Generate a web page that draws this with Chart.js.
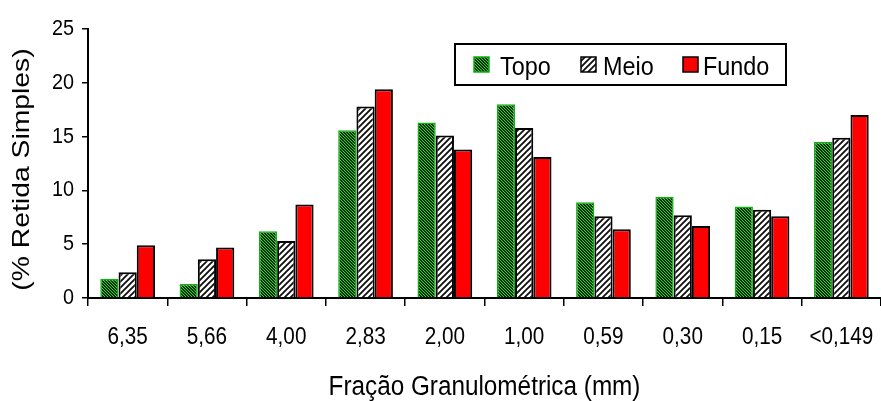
<!DOCTYPE html>
<html>
<head>
<meta charset="utf-8">
<script src="https://cdn.jsdelivr.net/npm/chart.js@4.4.1/dist/chart.umd.min.js"></script>
<style>
  html, body { margin: 0; padding: 0; background: #fff; }
  #wrap { width: 881px; height: 401px; }
</style>
</head>
<body>
<div id="wrap"><canvas id="c" width="881" height="401"></canvas></div>
<script>
// Fração granulométrica (mm) and % retida simples per layer
const categories = ['6,35', '5,66', '4,00', '2,83', '2,00', '1,00', '0,59', '0,30', '0,15', '<0,149'];
const topo  = [1.8, 1.3, 6.2, 15.6, 16.3, 18.0, 8.9, 9.4, 8.5, 14.5];
const meio  = [2.4, 3.6, 5.3, 17.8, 15.1, 15.8, 7.6, 7.7, 8.2, 14.9];
const fundo = [4.9, 4.7, 8.7, 19.4, 13.8, 13.1, 6.4, 6.7, 7.6, 17.0];
const seriesNames = ['Topo', 'Meio', 'Fundo'];
const yTicks = [0, 5, 10, 15, 20, 25];

const FONT = "'Liberation Sans', Arial, sans-serif";
const Y_TITLE_SIZE = 24;

// dense green "\" hatch on dark ground
function topoPattern() {
  const c = document.createElement('canvas');
  c.width = 3; c.height = 3;
  const x = c.getContext('2d');
  x.fillStyle = '#062806';
  x.fillRect(0, 0, 3, 3);
  x.fillStyle = '#22e022';
  for (let i = 0; i < 3; i++) x.fillRect(i, i, 1, 1);
  return x.createPattern(c, 'repeat');
}

// black "/" stripes on white
function meioPattern() {
  const s = 6;
  const c = document.createElement('canvas');
  c.width = s; c.height = s;
  const x = c.getContext('2d');
  x.fillStyle = '#fff';
  x.fillRect(0, 0, s, s);
  x.strokeStyle = '#111';
  x.lineWidth = 1.9;
  x.beginPath();
  x.moveTo(0, s); x.lineTo(s, 0);
  x.moveTo(-1, 1); x.lineTo(1, -1);
  x.moveTo(s - 1, s + 1); x.lineTo(s + 1, s - 1);
  x.stroke();
  return x.createPattern(c, 'repeat');
}

const fills = [topoPattern(), meioPattern(), '#ff0000'];
const borders = ['#10b010', '#000', '#000'];
const borderWidths = [1.5, 2, 2];

// narrow, tall lettering: squeeze glyphs along the text direction
// (the vertical axis title is the one exception: drawn wider and a bit lower)
const narrowText = {
  id: 'narrowText',
  beforeInit(chart) {
    const ctx = chart.ctx;
    const fill = ctx.fillText.bind(ctx);
    const yTitleFont = new RegExp('\\b' + Y_TITLE_SIZE + 'px\\b');
    ctx.fillText = function (text, x, y, maxWidth) {
      const isYTitle = yTitleFont.test(ctx.font);
      const sx = isYTitle ? 1.18 : 0.9;
      ctx.save();
      ctx.translate(isYTitle ? x - 6 : x, y);
      ctx.scale(sx, 1);
      if (maxWidth === undefined) fill(text, 0, 0);
      else fill(text, 0, 0, maxWidth / sx);
      ctx.restore();
    };
  }
};

// boxed legend drawn inside the plot area
const boxLegend = {
  id: 'boxLegend',
  afterDraw(chart) {
    const ctx = chart.ctx;
    ctx.save();
    ctx.fillStyle = '#fff';
    ctx.fillRect(455, 44, 331, 41);
    ctx.lineWidth = 2;
    ctx.strokeStyle = '#000';
    ctx.strokeRect(455, 44, 331, 41);
    const boxX = [474, 581, 683];
    const textX = [500, 603, 703];
    chart.data.datasets.forEach((ds, i) => {
      ctx.fillStyle = ds.backgroundColor;
      ctx.fillRect(boxX[i], 57, 15, 15);
      ctx.lineWidth = 1.5;
      ctx.strokeStyle = ds.borderColor;
      ctx.strokeRect(boxX[i], 57, 15, 15);
      ctx.fillStyle = '#000';
      ctx.font = '26px ' + FONT;
      ctx.textBaseline = 'alphabetic';
      ctx.textAlign = 'left';
      ctx.fillText(ds.label, textX[i], 75);
    });
    ctx.restore();
  }
};

new Chart(document.getElementById('c'), {
  type: 'bar',
  data: {
    labels: categories,
    datasets: [topo, meio, fundo].map((vals, i) => ({
      label: seriesNames[i],
      data: vals,
      backgroundColor: fills[i],
      borderColor: borders[i],
      borderWidth: borderWidths[i],
      categoryPercentage: 0.69,
      barPercentage: 1.0
    }))
  },
  options: {
    responsive: false,
    devicePixelRatio: 1,
    animation: false,
    layout: { padding: { left: 0, right: 0, top: 29, bottom: 0 } },
    plugins: {
      legend: { display: false },
      tooltip: { enabled: false }
    },
    scales: {
      x: {
        afterFit(scale) {
          scale.height = 103;
          scale.paddingLeft = 0;
          scale.paddingRight = 0;
        },
        grid: {
          offset: true,
          drawOnChartArea: false,
          drawTicks: true,
          tickLength: 8,
          color: '#000',
          lineWidth: 1.5
        },
        border: { display: true, color: '#000', width: 2 },
        ticks: {
          autoSkip: false,
          maxRotation: 0,
          padding: 18,
          color: '#000',
          font: { family: FONT, size: 23 }
        },
        title: {
          display: true,
          text: 'Fração Granulométrica (mm)',
          color: '#000',
          font: { family: FONT, size: 27, lineHeight: 1 },
          padding: { top: 0, bottom: 0 }
        }
      },
      y: {
        min: 0,
        max: 25,
        afterFit(scale) { scale.width = 88; },
        afterBuildTicks(scale) { scale.ticks = yTicks.map(v => ({ value: v })); },
        grid: {
          drawOnChartArea: false,
          drawTicks: true,
          tickLength: 6,
          color: '#000',
          lineWidth: 1.5
        },
        border: { display: true, color: '#000', width: 2 },
        ticks: {
          padding: 8,
          color: '#000',
          font: { family: FONT, size: 22 }
        },
        title: {
          display: true,
          text: '(% Retida Simples)',
          color: '#000',
          font: { family: FONT, size: Y_TITLE_SIZE, lineHeight: 1 },
          padding: { top: 10, bottom: 0 }
        }
      }
    }
  },
  plugins: [narrowText, boxLegend]
});
</script>
</body>
</html>
